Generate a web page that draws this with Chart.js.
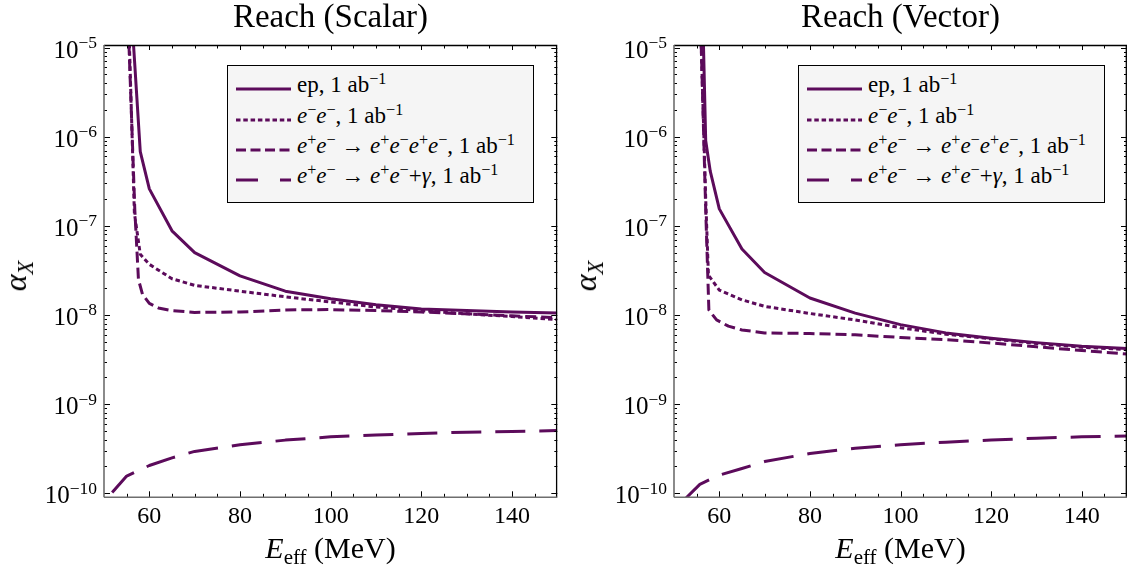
<!DOCTYPE html>
<html>
<head>
<meta charset="utf-8">
<script src="https://cdn.jsdelivr.net/npm/chart.js@4.4.1/dist/chart.umd.min.js"></script>
<style>
  html, body { margin: 0; padding: 0; background: #fff; }
  #wrap { position: relative; width: 1127px; height: 572px; overflow: hidden; font-family: 'Liberation Serif', 'Times New Roman', serif; color: #000; }
  canvas { position: absolute; top: 0; }
  .title { position: absolute; top: 0; height: 32px; line-height: 32px; font-size: 33px; text-align: center; white-space: nowrap; }
  .xtitle { position: absolute; top: 533px; height: 30px; line-height: 30px; font-size: 30px; text-align: center; white-space: nowrap; }
  .ytitle { position: absolute; top: 276px; line-height: 30px; font-size: 32px; white-space: nowrap; transform: translate(-50%, -50%) rotate(-90deg); }
  .ytick { position: absolute; height: 24px; line-height: 24px; font-size: 25px; white-space: nowrap; text-align: right; }
  .legend { position: absolute; top: 65px; width: 307px; height: 138px; box-sizing: border-box; border: 1.5px solid #000; background: #f5f5f5; }
  .row { position: absolute; left: 0; width: 100%; height: 22px; }
  .row svg { position: absolute; left: 8px; top: 0; }
  .row .txt { position: absolute; left: 69px; top: 0; line-height: 22px; font-size: 23px; white-space: nowrap; }
  sup { font-size: 0.7em; line-height: 0; vertical-align: 0; position: relative; top: -0.48em; }
  .ytick sup { top: -0.55em; }
  sub { font-size: 0.7em; line-height: 0; vertical-align: 0; position: relative; top: 0.3em; }
  i { font-style: italic; }
</style>
</head>
<body>
<div id="wrap">
  <canvas id="cS" width="564" height="572" style="left:0px"></canvas>
  <canvas id="cV" width="563" height="572" style="left:564px"></canvas>

  <div class="title" style="left:104px;width:453px">Reach (Scalar)</div>
  <div class="title" style="left:674px;width:453px">Reach (Vector)</div>

  <div class="xtitle" style="left:104px;width:453px"><i>E</i><sub>eff</sub> (MeV)</div>
  <div class="xtitle" style="left:674px;width:453px"><i>E</i><sub>eff</sub> (MeV)</div>

  <div class="ytitle" style="left:15px"><i>α</i><sub><i>X</i></sub></div>
  <div class="ytitle" style="left:585px"><i>α</i><sub><i>X</i></sub></div>

  <div class="legend" id="legS" style="left:227px"></div>
  <div class="legend" id="legV" style="left:798px"></div>
</div>
<script>
// ---------------- data ----------------
const xTickValues = [60, 80, 100, 120, 140];
const yTickExponents = [-10, -9, -8, -7, -6, -5];

const seriesNames = [
  'ep, 1 ab<sup>−1</sup>',
  '<i>e</i><sup>−</sup><i>e</i><sup>−</sup>, 1 ab<sup>−1</sup>',
  '<i>e</i><sup>+</sup><i>e</i><sup>−</sup> → <i>e</i><sup>+</sup><i>e</i><sup>−</sup><i>e</i><sup>+</sup><i>e</i><sup>−</sup>, 1 ab<sup>−1</sup>',
  '<i>e</i><sup>+</sup><i>e</i><sup>−</sup> → <i>e</i><sup>+</sup><i>e</i><sup>−</sup>+<i>γ</i>, 1 ab<sup>−1</sup>'
];

// Scalar panel
const scalarEpX = [56.5, 58, 60, 65, 70, 80, 90, 100, 110, 120, 130, 140, 150];
const scalarEpY = [1.1e-5, 6.8e-7, 2.6e-7, 8.8e-8, 5.0e-8, 2.75e-8, 1.85e-8, 1.52e-8, 1.3e-8, 1.17e-8, 1.12e-8, 1.08e-8, 1.05e-8];
const scalarEeX = [55.6, 56.7, 58, 60, 65, 70, 80, 90, 100, 110, 120, 130, 140, 150];
const scalarEeY = [1.1e-5, 1.4e-7, 4.8e-8, 3.7e-8, 2.55e-8, 2.15e-8, 1.85e-8, 1.6e-8, 1.4e-8, 1.23e-8, 1.12e-8, 1.03e-8, 9.6e-9, 8.9e-9];
const scalarFourX = [55.5, 56.8, 57.6, 58.5, 60, 62, 65, 70, 80, 90, 100, 110, 120, 130, 140, 150];
const scalarFourY = [1.1e-5, 1.5e-7, 2.5e-8, 1.7e-8, 1.35e-8, 1.2e-8, 1.12e-8, 1.07e-8, 1.08e-8, 1.14e-8, 1.15e-8, 1.12e-8, 1.08e-8, 1.03e-8, 9.8e-9, 9.3e-9];
const scalarGammaX = [51.8, 55, 60, 65, 70, 80, 90, 100, 110, 120, 130, 140, 150];
const scalarGammaY = [1.02e-10, 1.56e-10, 2.05e-10, 2.5e-10, 2.95e-10, 3.5e-10, 3.95e-10, 4.3e-10, 4.5e-10, 4.7e-10, 4.85e-10, 4.95e-10, 5.05e-10];

// Vector panel
const vectorEpX = [56.5, 57, 58, 60, 65, 70, 80, 90, 100, 110, 120, 130, 140, 150];
const vectorEpY = [1.1e-5, 9e-7, 4.1e-7, 1.55e-7, 5.5e-8, 3.0e-8, 1.55e-8, 1.05e-8, 7.8e-9, 6.3e-9, 5.5e-9, 4.9e-9, 4.45e-9, 4.2e-9];
const vectorEeX = [56, 57, 57.6, 60, 65, 70, 80, 90, 100, 110, 120, 130, 140, 150];
const vectorEeY = [1.1e-5, 2e-7, 2.8e-8, 1.9e-8, 1.48e-8, 1.25e-8, 1.04e-8, 8.8e-9, 7.2e-9, 6.1e-9, 5.4e-9, 4.8e-9, 4.35e-9, 4.1e-9];
const vectorFourX = [56, 57, 57.7, 59.4, 62, 65, 70, 80, 90, 100, 110, 120, 130, 140, 150];
const vectorFourY = [1.1e-5, 1.5e-7, 1.14e-8, 8.8e-9, 7.5e-9, 6.8e-9, 6.3e-9, 6.2e-9, 6.0e-9, 5.6e-9, 5.3e-9, 4.85e-9, 4.4e-9, 4.0e-9, 3.65e-9];
const vectorGammaX = [52.6, 55.7, 60, 65, 70, 80, 90, 100, 110, 120, 130, 140, 150];
const vectorGammaY = [8.8e-11, 1.26e-10, 1.6e-10, 1.9e-10, 2.27e-10, 2.8e-10, 3.2e-10, 3.5e-10, 3.75e-10, 3.95e-10, 4.15e-10, 4.3e-10, 4.4e-10];

// ---------------- styles ----------------
const LINE_COLOR = '#5c0b5b';
const plotDashes = [[], [4.5, 3], [11, 5], [30, 14]];
const legendDashes = ['', '4.5 2.8', '10 4.5', '22 22'];

const zip = (xs, ys) => xs.map((x, i) => ({x: x, y: ys[i]}));

const framePlugin = {
  id: 'frameTicks',
  afterDraw(chart) {
    const ctx = chart.ctx, a = chart.chartArea, xs = chart.scales.x, ys = chart.scales.y;
    ctx.save();
    ctx.strokeStyle = '#000';
    ctx.lineWidth = 1;
    ctx.beginPath();
    for (let v = 55; v < 150; v += 5) {
      const px = Math.round(xs.getPixelForValue(v)) + 0.5;
      const major = xTickValues.includes(v);
      ctx.moveTo(px, a.bottom); ctx.lineTo(px, a.bottom - (major ? 6 : 3.5));
      ctx.moveTo(px, a.top); ctx.lineTo(px, a.top + (major ? 5 : 3.5));
    }
    for (let e = -11; e <= -5; e++) {
      for (let m = 1; m <= 9; m++) {
        const v = m * Math.pow(10, e);
        if (v < ys.min || v > ys.max) continue;
        const py = Math.round(ys.getPixelForValue(v)) + 0.5;
        const len = m === 1 ? 6 : 3;
        ctx.moveTo(a.left, py); ctx.lineTo(a.left + len, py);
        ctx.moveTo(a.right, py); ctx.lineTo(a.right - len, py);
      }
    }
    ctx.stroke();
    ctx.lineWidth = 1.3;
    ctx.strokeStyle = '#000';
    ctx.beginPath();
    ctx.moveTo(a.left, a.top + 0.5); ctx.lineTo(a.right, a.top + 0.5);
    ctx.moveTo(a.right - 0.7, a.top); ctx.lineTo(a.right - 0.7, a.bottom);
    ctx.stroke();
    ctx.strokeStyle = '#6e6e6e';
    ctx.lineWidth = 1.6;
    ctx.beginPath();
    ctx.moveTo(a.left, a.top); ctx.lineTo(a.left, a.bottom);
    ctx.moveTo(a.left, a.bottom); ctx.lineTo(a.right, a.bottom);
    ctx.stroke();
    ctx.restore();
  }
};

function makeChart(id, seriesXY, yAxisWidth, padRight) {
  const datasets = seriesXY.map((s, i) => ({
    data: zip(s[0], s[1]),
    borderColor: LINE_COLOR,
    borderWidth: 3,
    borderDash: plotDashes[i],
    borderCapStyle: 'butt',
    borderJoinStyle: 'round',
    pointRadius: 0,
    fill: false,
    tension: 0
  }));
  const tickFont = {family: "'Liberation Serif', 'Times New Roman', serif", size: 24};
  return new Chart(document.getElementById(id), {
    type: 'line',
    data: {datasets: datasets},
    options: {
      responsive: false,
      animation: false,
      devicePixelRatio: 1,
      layout: {padding: {left: 0, right: padRight, top: 45, bottom: 0}},
      plugins: {legend: {display: false}, tooltip: {enabled: false}, title: {display: false}},
      scales: {
        x: {
          type: 'linear', min: 50, max: 150,
          grid: {display: false, drawTicks: false},
          border: {display: false},
          ticks: {font: tickFont, color: '#000', padding: 5, maxRotation: 0, autoSkip: false},
          afterBuildTicks: s => { s.ticks = xTickValues.map(v => ({value: v})); },
          afterFit: s => { s.height = 74.7; }
        },
        y: {
          type: 'logarithmic', min: 9.02e-11, max: 1.068e-5,
          grid: {display: false, drawTicks: false},
          border: {display: false},
          ticks: {display: false, font: tickFont, autoSkip: false},
          afterBuildTicks: s => { s.ticks = yTickExponents.map(e => ({value: Math.pow(10, e)})); },
          afterFit: s => { s.width = yAxisWidth; }
        }
      }
    },
    plugins: [framePlugin]
  });
}

const chartS = makeChart('cS', [[scalarEpX, scalarEpY], [scalarEeX, scalarEeY], [scalarFourX, scalarFourY], [scalarGammaX, scalarGammaY]], 104, 6.7);
const chartV = makeChart('cV', [[vectorEpX, vectorEpY], [vectorEeX, vectorEeY], [vectorFourX, vectorFourY], [vectorGammaX, vectorGammaY]], 110, 0);

// y tick labels (10^n with real superscripts), placed from the chart's own y scale
function yTickLabels(chart, canvasLeft) {
  const wrap = document.getElementById('wrap');
  const ys = chart.scales.y;
  const right = canvasLeft + chart.chartArea.left - 7;
  yTickExponents.forEach(e => {
    const py = ys.getPixelForValue(Math.pow(10, e));
    const d = document.createElement('div');
    d.className = 'ytick';
    d.style.left = (right - 120) + 'px';
    d.style.width = '120px';
    d.style.top = (py - 10) + 'px';
    d.innerHTML = '10<sup>' + (e < 0 ? '−' + (-e) : e) + '</sup>';
    wrap.appendChild(d);
  });
}
yTickLabels(chartS, 0);
yTickLabels(chartV, 564);

// ---------------- legends ----------------
const rowCenters = [23, 53.5, 84, 114];
function buildLegend(id) {
  const box = document.getElementById(id);
  seriesNames.forEach((name, i) => {
    const row = document.createElement('div');
    row.className = 'row';
    row.style.top = (rowCenters[i] - 11) + 'px';
    const dash = legendDashes[i] ? ` stroke-dasharray="${legendDashes[i]}"` : '';
    row.innerHTML = `<svg width="56" height="22"><line x1="0" y1="11" x2="55" y2="11" stroke="${LINE_COLOR}" stroke-width="3"${dash}/></svg>` +
      `<span class="txt" style="top:-4px">${name}</span>`;
    box.appendChild(row);
  });
}
buildLegend('legS');
buildLegend('legV');
</script>
</body>
</html>
